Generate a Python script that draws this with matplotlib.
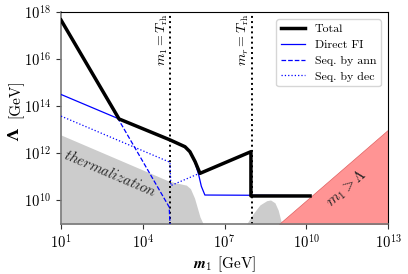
import numpy as np
import matplotlib
matplotlib.use("Agg")
import matplotlib.pyplot as plt

plt.rcParams['mathtext.fontset'] = 'cm'
plt.rcParams['font.family'] = 'serif'
plt.rcParams['font.serif'] = ['cmr10', 'DejaVu Serif']
plt.rcParams['axes.formatter.use_mathtext'] = True

# log10 values
total_x = [1.0, 3.13, 5.0, 5.55, 5.73, 5.92, 6.10, 7.97, 7.97, 10.14]
total_y = [17.66, 13.46, 12.57, 12.28, 12.07, 11.65, 11.15, 12.07, 10.19, 10.19]

direct_x = [1.0, 3.13, 5.0, 5.55, 5.73, 5.92, 6.05, 6.15, 6.28, 8.0, 10.14]
direct_y = [14.5, 13.46, 12.57, 12.28, 12.07, 11.6, 11.1, 10.6, 10.23, 10.22, 10.2]

ann_x = [1.0, 4.97, 5.0]
ann_y = [17.66, 9.72, 9.0]

dec_x = [1.0, 5.0, 5.03, 6.08, 7.97]
dec_y = [13.58, 11.62, 10.63, 11.15, 12.07]

therm_x = [1.0, 4.9, 5.2, 5.6, 5.75, 5.9, 6.0, 6.1, 6.22]
therm_y = [12.78, 10.85, 10.75, 10.65, 10.5, 10.1, 9.7, 9.3, 9.0]

bump_x = [7.81, 8.06, 8.30, 8.55, 8.69, 8.85, 8.97, 9.10]
bump_y = [9.0, 9.45, 9.81, 9.99, 10.02, 9.90, 9.59, 9.0]

excl_x = [9.0, 13.0]

x_ticks = [1, 4, 7, 10, 13]
y_ticks = [10, 12, 14, 16, 18]

def p(a):
    return 10.0 ** np.array(a)

fig = plt.figure(figsize=(4.08, 2.74), dpi=100)
ax = fig.add_axes([61/408, 1-224/274, 327/408, 212/274])

ax.fill_between(p(therm_x), 1e9, p(therm_y), color='#cccccc', lw=0, zorder=1)
ax.fill_between(p(bump_x), 1e9, p(bump_y), color='#cccccc', lw=0, zorder=1)
ax.fill_between(p(excl_x), 1e9, p(excl_x), color='#ff9494', lw=0.5, edgecolor='#e06060', zorder=1)

ax.axvline(1e5, color='black', ls=':', lw=1.4, zorder=2)
ax.axvline(1e8, color='black', ls=':', lw=1.4, zorder=2)

ax.plot(p(total_x), p(total_y), color='black', lw=2.5, label='Total', zorder=5)
ax.plot(p(direct_x), p(direct_y), color='blue', lw=0.9, label='Direct FI', zorder=4)
ax.plot(p(ann_x), p(ann_y), color='blue', lw=0.9, ls='--', label='Seq. by ann', zorder=4)
ax.plot(p(dec_x), p(dec_y), color='blue', lw=0.9, ls=':', label='Seq. by dec', zorder=4)

ax.set_xscale('log')
ax.set_yscale('log')
ax.set_xlim(1e1, 1e13)
ax.set_ylim(1e9, 1e18)
ax.set_xticks(p(x_ticks))
ax.set_yticks(p(y_ticks))
ax.minorticks_off()
ax.tick_params(labelsize=10.5, length=3.5, width=0.8, colors='#333333', labelcolor='black')

for s in ['left', 'bottom']:
    ax.spines[s].set_color('#777777')
    ax.spines[s].set_linewidth(1.2)

ax.set_xlabel(r'$\mathbfit{m}_{\mathbf{1}}$ [GeV]', fontsize=11, labelpad=2)
fig.text(15/408, 1-118/274, '[GeV]', rotation=90, ha='center', va='bottom', fontsize=11)
fig.text(15/408, 1-135/274, 'Λ', rotation=90, ha='center', va='center', fontsize=11,
         family='DejaVu Serif', weight='bold')

ax.text(10**4.70, 10**17.93, r'$m_1 = T_{\rm rh}$', rotation=90, ha='center', va='top', fontsize=10)
ax.text(10**7.69, 10**17.93, r'$m_r = T_{\rm rh}$', rotation=90, ha='center', va='top', fontsize=10)
ax.text(10**2.80, 10**11.15, r'$thermalization$', rotation=-23, ha='center', va='center', fontsize=10.5, color='#222222')
ax.text(10**11.48, 10**10.52, r'$m_1 > \Lambda$', rotation=41, ha='center', va='center', fontsize=11, color='#222222')

leg = ax.legend(loc='upper right', fontsize=8.6, frameon=True, fancybox=True,
                borderaxespad=0.6, handlelength=2.0, labelspacing=0.45)
leg.get_frame().set_edgecolor('#cccccc')

fig.savefig('out.png', dpi=100)
